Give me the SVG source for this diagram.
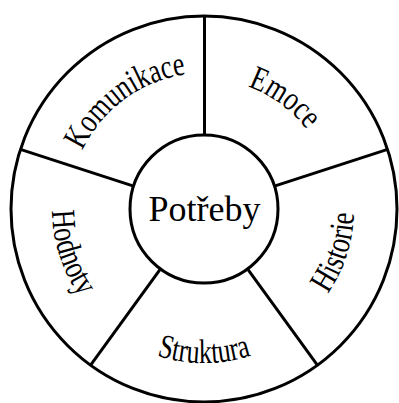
<svg xmlns="http://www.w3.org/2000/svg" width="399" height="403" viewBox="0 0 399 403">
<style>
.ln{fill:none;stroke:#000;stroke-width:3}
.c{fill:#fff;stroke:#000;stroke-width:3}
.t{font-family:"Liberation Serif","Times New Roman",serif;font-size:34px;fill:#000}
.m{font-family:"Liberation Serif","Times New Roman",serif;font-size:36px;fill:#000}
</style>
<defs>
<path id="pK" d="M73,176.3 A136,136 0 0 1 213.4,73.3"/>
<path id="pE" d="M194.9,79.3 A130,130 0 0 1 330.1,177.6"/>
<path id="pHi" d="M283.5,336.3 A150,150 0 0 0 343.1,152.8"/>
<path id="pS" d="M105,327 A154,154 0 0 0 303,327"/>
<path id="pHo" d="M63.1,152.1 A152,152 0 0 0 123.5,337.9"/>
</defs>
<rect width="399" height="403" fill="#fff"/>
<g id="outer"><circle class="c" cx="204" cy="209" r="193"/></g>
<g id="connectors">
<line class="ln" x1="204.5" y1="135" x2="204.5" y2="16"/>
<line class="ln" x1="274.4" y1="186.1" x2="387.6" y2="149.4"/>
<line class="ln" x1="247.5" y1="268.9" x2="317.4" y2="365.1"/>
<line class="ln" x1="160.5" y1="268.9" x2="90.6" y2="365.1"/>
<line class="ln" x1="133.6" y1="186.1" x2="20.4" y2="149.4"/>
</g>
<g id="center"><circle class="c" cx="204" cy="209" r="74"/>
<text class="m" x="204.5" y="221" text-anchor="middle">Potřeby</text></g>
<g id="komunikace"><text class="t" text-anchor="middle"><textPath href="#pK" startOffset="50%" textLength="134" lengthAdjust="spacingAndGlyphs">Komunikace</textPath></text></g>
<g id="emoce"><text class="t" text-anchor="middle"><textPath href="#pE" startOffset="50%" textLength="74" lengthAdjust="spacingAndGlyphs">Emoce</textPath></text></g>
<g id="historie"><text class="t" text-anchor="middle"><textPath href="#pHi" startOffset="50%" textLength="86" lengthAdjust="spacingAndGlyphs">Historie</textPath></text></g>
<g id="struktura"><text class="t" text-anchor="middle"><textPath href="#pS" startOffset="50%" textLength="96" lengthAdjust="spacingAndGlyphs">Struktura</textPath></text></g>
<g id="hodnoty"><text class="t" text-anchor="middle"><textPath href="#pHo" startOffset="50%" textLength="92" lengthAdjust="spacingAndGlyphs">Hodnoty</textPath></text></g>
</svg>
